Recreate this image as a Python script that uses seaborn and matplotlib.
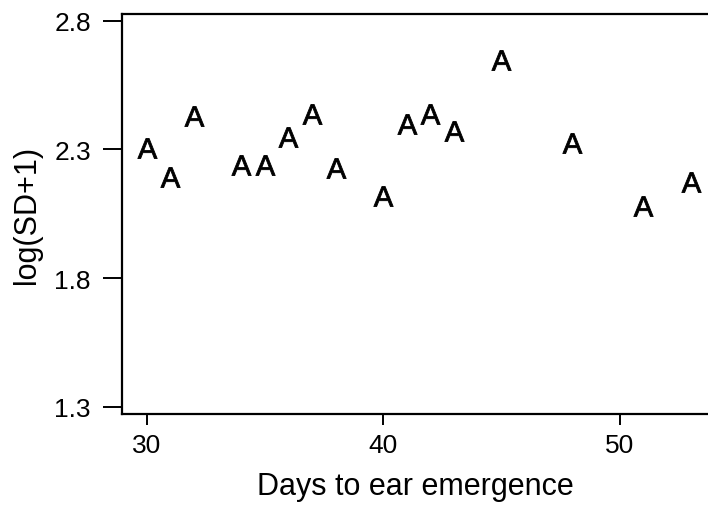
import matplotlib
matplotlib.use("Agg")
import matplotlib.pyplot as plt
import seaborn as sns
import pandas as pd

# Data
days = [30, 31, 32, 34, 35, 36, 37, 38, 40, 41, 42, 43, 45, 48, 51, 53]
log_sd = [2.304, 2.191, 2.430, 2.240, 2.240, 2.348, 2.439, 2.229,
          2.117, 2.399, 2.439, 2.370, 2.648, 2.324, 2.079, 2.175]
x_ticks = [30, 40, 50]
y_ticks = [1.3, 1.8, 2.3, 2.8]
y_tick_labels = ["1.3", "1.8", "2.3", "2.8"]

df = pd.DataFrame({"days": days, "log_sd": log_sd})

sns.set_theme(style="white")
plt.rcParams["font.family"] = ["Liberation Sans", "DejaVu Sans"]
plt.rcParams["mathtext.fontset"] = "custom"
plt.rcParams["mathtext.sf"] = "Liberation Sans"

fig = plt.figure(figsize=(7.08, 5.06), dpi=100)
ax = fig.add_axes([122 / 708, 1 - 415 / 506, 1 - 122 / 708, (415 - 15) / 506])

sns.scatterplot(data=df, x="days", y="log_sd", ax=ax,
                marker=r"$\mathsf{A}$", s=210, color="black",
                linewidth=0.6, edgecolor="black", legend=False)

ax.set_xlim(28.96, 53.74)
ax.set_ylim(1.2716, 2.826)
ax.set_xticks(x_ticks)
ax.set_xticklabels([str(t) for t in x_ticks])
ax.set_yticks(y_ticks)
ax.set_yticklabels(y_tick_labels)

for side in ["left", "bottom", "top"]:
    ax.spines[side].set_visible(True)
    ax.spines[side].set_color("black")
    ax.spines[side].set_linewidth(1.6)
ax.spines["right"].set_visible(False)

ax.tick_params(axis="y", which="major", direction="out", length=13.5, width=1.4,
               pad=9, labelsize=19, colors="black", left=True)
ax.tick_params(axis="x", which="major", direction="out", length=8, width=1.4,
               pad=6, labelsize=19, colors="black", bottom=True)

ax.set_xlabel("Days to ear emergence", fontsize=22, color="black", labelpad=10)
ax.set_ylabel("log(SD+1)", fontsize=22, color="black", labelpad=9)

fig.savefig("out.png", dpi=100, facecolor="white")
